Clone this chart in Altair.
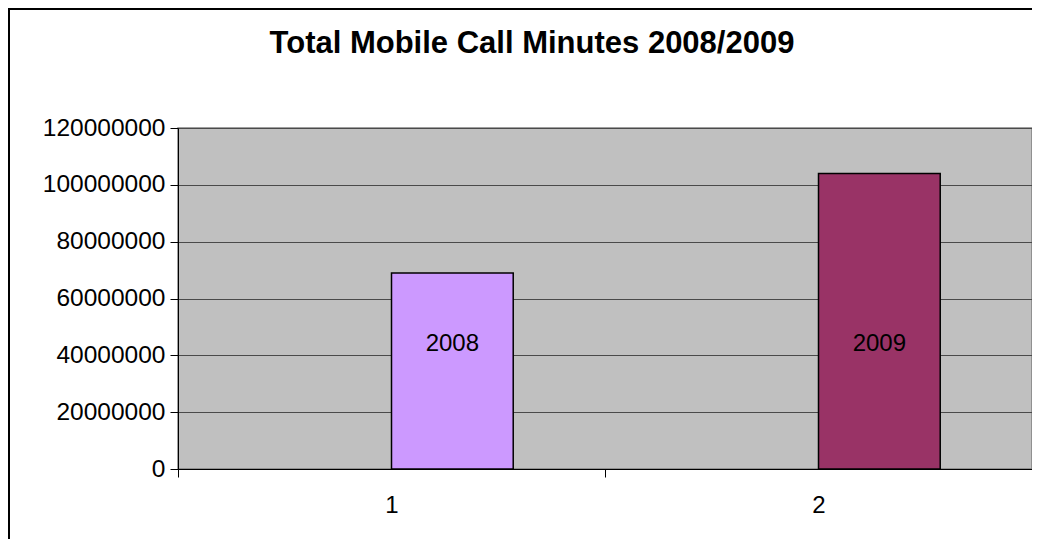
import altair as alt
import pandas as pd

categories = ["1", "2"]
series = ["B", "B"]
years = ["2008", "2009"]
values = [69000000, 104000000]
colors = ["#CC99FF", "#993366"]
y_ticks = [0, 20000000, 40000000, 60000000, 80000000, 100000000, 120000000]

df = pd.DataFrame({"cat": categories, "series": series, "year": years, "value": values})

FONT = "Liberation Sans"

x_enc = alt.X("cat:N", scale=alt.Scale(paddingInner=0, paddingOuter=0),
              axis=alt.Axis(title=None, labelAngle=0, tickBand="extent", grid=False,
                            domainColor="black", tickColor="black", tickSize=8,
                            labelFontSize=24, labelFont=FONT, labelColor="black",
                            labelPadding=16))
xo_enc = alt.XOffset("series:N", scale=alt.Scale(domain=["A", "B"], paddingInner=0, paddingOuter=0.754))

base = alt.Chart(df)

bars = base.mark_bar(stroke="black", strokeWidth=1.5).encode(
    x=x_enc,
    xOffset=xo_enc,
    y=alt.Y("value:Q", scale=alt.Scale(domain=[0, 120000000], nice=False),
            axis=alt.Axis(title=None, values=y_ticks, format="d", grid=True,
                          gridColor="#4a4a4a", gridWidth=1.2,
                          domainColor="black", tickColor="black", tickSize=8,
                          labelFontSize=24.5, labelFont=FONT, labelColor="black",
                          labelPadding=5)),
    color=alt.Color("year:N", scale=alt.Scale(domain=years, range=colors), legend=None),
)

labels = base.transform_calculate(labelY="44000000").mark_text(
    fontSize=24, font=FONT, color="black", baseline="middle"
).encode(
    x=alt.X("cat:N"),
    xOffset=alt.XOffset("series:N"),
    y=alt.Y("labelY:Q"),
    text="year:N",
)

frame_data = alt.Data(values=[{"f": 1}])
frame_left = alt.Chart(frame_data).mark_rule(color="black", strokeWidth=2, clip=False).encode(
    x=alt.value(-169), y=alt.value(-119), y2=alt.value(411)
)
frame_top = alt.Chart(frame_data).mark_rule(color="black", strokeWidth=2, clip=False).encode(
    x=alt.value(-170), x2=alt.value(854), y=alt.value(-119)
)

chart = alt.layer(bars, labels, frame_left, frame_top).properties(
    width=854,
    height=341,
    background="white",
    autosize=alt.AutoSizeParams(type="none"),
    padding={"left": 170, "top": 120, "right": 0, "bottom": 70},
    title=alt.TitleParams(
        "Total Mobile Call Minutes 2008/2009",
        fontSize=31, fontWeight="bold", font=FONT, color="black",
        anchor="middle", dx=-73, offset=-76, baseline="alphabetic",
    ),
).configure_view(fill="#C0C0C0", stroke="#808080", strokeWidth=1.5)

chart.save("out.html", embed_options={"renderer": "svg", "actions": False})
